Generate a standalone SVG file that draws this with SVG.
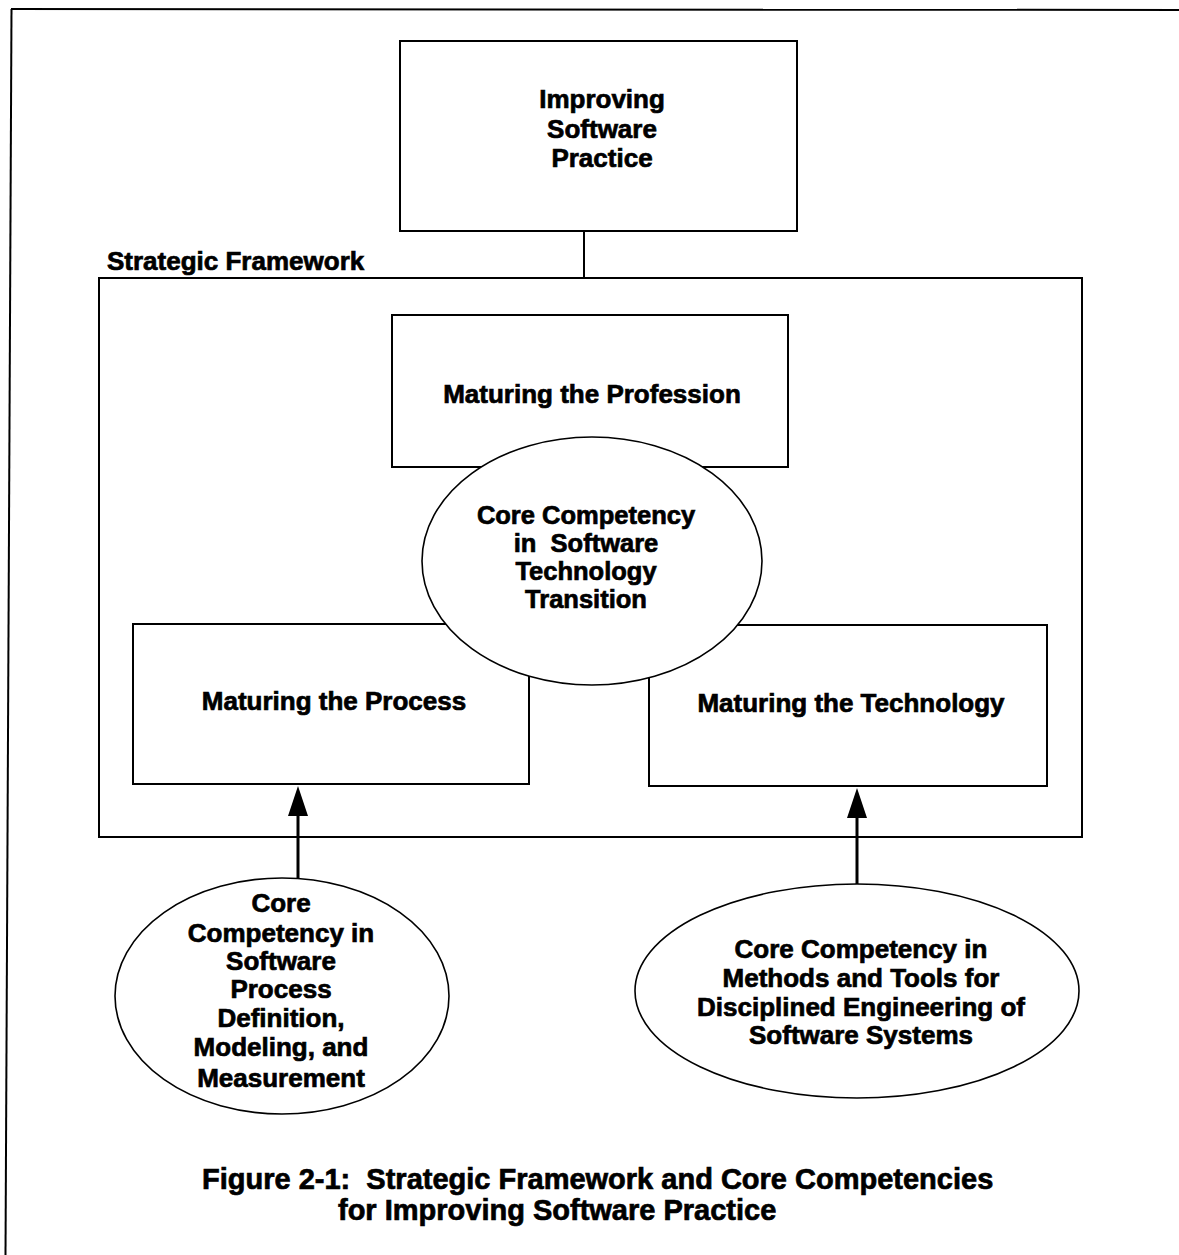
<svg xmlns="http://www.w3.org/2000/svg" width="1179" height="1255" viewBox="0 0 1179 1255">
  <style>
    .box { fill: #fff; stroke: #000; stroke-width: 2; }
    .oval { fill: #fff; stroke: #000; stroke-width: 1.6; }
    .frame { fill: none; stroke: #000; stroke-width: 2; }
    .lbl { font-family: "Liberation Sans", Arial, Helvetica, sans-serif; font-weight: bold; font-size: 26px; fill: #000; stroke: #000; stroke-width: 0.7; text-anchor: middle; white-space: pre; }
    .tight { font-size: 25.5px; }
    .left { text-anchor: start; }
    .cap { font-size: 29px; }
    .wire { stroke: #000; stroke-width: 2; fill: none; }
    .arrow { stroke: #000; stroke-width: 3; fill: none; }
  </style>

  <rect width="1179" height="1255" fill="#fff"/>

  <!-- page border: top and left rules -->
  <g id="page-border">
    <line x1="11" y1="9" x2="1179" y2="10" class="frame"/>
    <line x1="11.5" y1="9" x2="5.5" y2="1255" class="frame"/>
  </g>

  <!-- strategic framework container -->
  <g id="framework">
    <rect x="99" y="278" width="983" height="559" class="box"/>
    <text x="107" y="270" class="lbl left">Strategic Framework</text>
  </g>

  <!-- connectors -->
  <g id="connectors">
    <line x1="584" y1="231" x2="584" y2="278" class="wire"/>
    <line x1="298" y1="878" x2="298" y2="814" class="arrow"/>
    <line x1="857" y1="884" x2="857" y2="816" class="arrow"/>
    <path d="M288,816 L308,816 L298,786 Z" fill="#000"/>
    <path d="M847,818 L867,818 L857,788 Z" fill="#000"/>
  </g>

  <g id="improving-practice">
    <rect x="400" y="41" width="397" height="190" class="box"/>
    <text class="lbl" x="602" y="108">Improving</text>
    <text class="lbl" x="602" y="138">Software</text>
    <text class="lbl" x="602" y="167">Practice</text>
  </g>

  <g id="maturing-profession">
    <rect x="392" y="315" width="396" height="152" class="box"/>
    <text class="lbl" x="592" y="403">Maturing the Profession</text>
  </g>

  <g id="maturing-process">
    <rect x="133" y="624" width="396" height="160" class="box"/>
    <text class="lbl" x="334" y="710">Maturing the Process</text>
  </g>

  <g id="maturing-technology">
    <rect x="649" y="625" width="398" height="161" class="box"/>
    <text class="lbl" x="851" y="712">Maturing the Technology</text>
  </g>

  <g id="technology-transition">
    <ellipse cx="592" cy="561" rx="170" ry="124" class="oval"/>
    <text class="lbl tight" x="586" y="524">Core Competency</text>
    <text class="lbl tight" x="586" y="552" xml:space="preserve">in  Software</text>
    <text class="lbl tight" x="586" y="580">Technology</text>
    <text class="lbl tight" x="586" y="608">Transition</text>
  </g>

  <g id="process-competency">
    <ellipse cx="282" cy="996" rx="167" ry="118" class="oval"/>
    <text class="lbl" x="281" y="912">Core</text>
    <text class="lbl" x="281" y="942">Competency in</text>
    <text class="lbl" x="281" y="970">Software</text>
    <text class="lbl" x="281" y="998">Process</text>
    <text class="lbl" x="281" y="1027">Definition,</text>
    <text class="lbl" x="281" y="1056">Modeling, and</text>
    <text class="lbl" x="281" y="1087">Measurement</text>
  </g>

  <g id="methods-competency">
    <ellipse cx="857" cy="991" rx="222" ry="107" class="oval"/>
    <text class="lbl" x="861" y="958">Core Competency in</text>
    <text class="lbl" x="861" y="987">Methods and Tools for</text>
    <text class="lbl" x="861" y="1016">Disciplined Engineering of</text>
    <text class="lbl" x="861" y="1044">Software Systems</text>
  </g>

  <g id="caption">
    <text class="lbl cap left" x="202" y="1189" xml:space="preserve">Figure 2-1:  Strategic Framework and Core Competencies</text>
    <text class="lbl cap left" x="338" y="1220">for Improving Software Practice</text>
  </g>
</svg>
